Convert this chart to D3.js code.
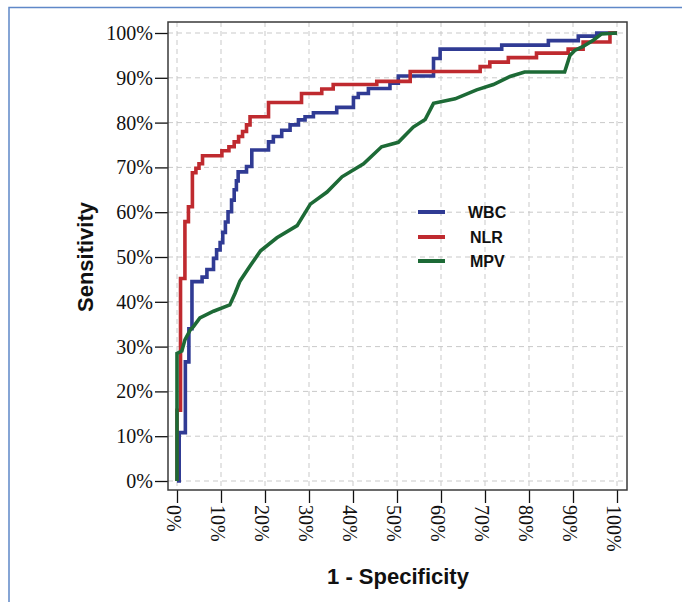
<!DOCTYPE html>
<html>
<head>
<meta charset="utf-8">
<script src="https://cdn.jsdelivr.net/npm/d3@7"></script>
<style>
  body { margin: 0; background: #fff; }
  svg { display: block; }
</style>
</head>
<body>
<div id="chart"></div>
<script>
// tick values (percent)
var ticks = [0, 10, 20, 30, 40, 50, 60, 70, 80, 90, 100];

var seriesNames = ["WBC", "NLR", "MPV"];
var seriesColors = ["#303b94", "#bf2a2f", "#1d6a36"];

// ROC vertices: [1 - specificity %, sensitivity %]
var wbc = [[0,0],[0.5,0],[0.5,10.8],[1.9,10.8],[1.9,26.6],[2.7,26.6],[2.7,34],[3.4,34],[3.4,44.5],
  [5.7,44.5],[5.7,45.5],[6.8,45.5],[6.8,47.2],[8.3,47.2],[8.3,49.7],[9,49.7],[9,51.6],[9.8,51.6],
  [9.8,53.2],[10.4,53.2],[10.4,55.5],[11,55.5],[11,57.8],[11.6,57.8],[11.6,60.1],[12.4,60.1],
  [12.4,62.7],[13,62.7],[13,65],[13.5,65],[13.5,67],[13.9,67],[13.9,69],[15.8,69],[15.8,70.2],
  [17,70.2],[17,73.9],[20.8,73.9],[20.8,75.7],[21.9,75.7],[21.9,76.9],[23.8,76.9],[23.8,78.3],
  [25.7,78.3],[25.7,79.5],[27.6,79.5],[27.6,80.6],[29.1,80.6],[29.1,81.3],[31,81.3],[31,82.2],
  [36.3,82.2],[36.3,83.4],[40.1,83.4],[40.1,85.6],[41.2,85.6],[41.2,86.5],[43.5,86.5],[43.5,87.6],
  [48.4,87.6],[48.4,88.8],[50.3,88.8],[50.3,90.4],[58.3,90.4],[58.3,94.3],[59.8,94.3],[59.8,96.4],
  [73.8,96.4],[73.8,97.3],[84.4,97.3],[84.4,98.3],[91.2,98.3],[91.2,99.3],[95.4,99.3],[95.4,100],[100,100]];

var nlr = [[0,0],[0,15.8],[0.8,15.8],[0.8,45.2],[1.8,45.2],[1.8,57.9],[2.6,57.9],[2.6,61.2],[3.5,61.2],
  [3.5,68.8],[4.3,68.8],[4.3,69.8],[5,69.8],[5,70.8],[5.8,70.8],[5.8,72.6],[10.2,72.6],[10.2,73.7],
  [11.8,73.7],[11.8,74.6],[13,74.6],[13,75.7],[14,75.7],[14,76.9],[14.9,76.9],[14.9,78],[15.8,78],
  [15.8,79.5],[16.6,79.5],[16.6,81.3],[20.8,81.3],[20.8,84.5],[28.3,84.5],[28.3,86.5],[32.9,86.5],
  [32.9,87.5],[35.5,87.5],[35.5,88.5],[45.4,88.5],[45.4,89.2],[53,89.2],[53,91.4],[68.9,91.4],
  [68.9,92.5],[71.1,92.5],[71.1,93.5],[75.3,93.5],[75.3,94.5],[81.7,94.5],[81.7,95.5],[88.9,95.5],
  [88.9,96.4],[92.3,96.4],[92.3,98],[98.4,98],[98.4,100],[100,100]];

var mpv = [[0,0],[0,28.5],[1.1,29],[1.8,31.5],[3,33.7],[3.7,34.4],[5.2,36.4],[8.3,37.9],[12,39.3],
  [13.2,41.9],[14.3,44.6],[16.6,48],[19,51.4],[22.7,54.3],[27.3,57],[30.3,61.8],[34.1,64.5],
  [37.5,67.9],[42.4,70.8],[46.5,74.6],[50.3,75.6],[53.7,79],[56.4,80.7],[58.3,84.3],[63.2,85.3],
  [68.1,87.3],[71.9,88.5],[75.7,90.3],[79,91.3],[88.1,91.3],[89.3,95],[90.4,96.1],[92.3,97],
  [94.6,98.4],[96.5,99.8],[100,100]];

var series = [wbc, nlr, mpv];

var width = 682, height = 602;
var frame = {left: 168, right: 627, top: 22, bottom: 490};

var svg = d3.select("#chart").append("svg")
    .attr("width", width)
    .attr("height", height);

// outer page frame
svg.append("path")
    .attr("d", "M9,602V7.5H682")
    .attr("fill", "none")
    .attr("stroke", "#5f88c8")
    .attr("stroke-width", 1.5);

var x = d3.scaleLinear().domain([0, 100]).range([177, 617]);
var y = d3.scaleLinear().domain([0, 100]).range([481, 33]);

// grid
var grid = svg.append("g").attr("stroke", "#c9c9c9").attr("stroke-dasharray", "5,4").attr("stroke-width", 1);
grid.selectAll(".gx").data(ticks).enter().append("line")
    .attr("x1", d => x(d)).attr("x2", d => x(d))
    .attr("y1", frame.top).attr("y2", frame.bottom);
grid.selectAll(".gy").data(ticks).enter().append("line")
    .attr("x1", frame.left).attr("x2", frame.right)
    .attr("y1", d => y(d)).attr("y2", d => y(d));

// axes
var yAxis = svg.append("g")
    .attr("transform", "translate(" + frame.left + ",0)")
    .call(d3.axisLeft(y).tickValues(ticks).tickFormat(d => d + "%").tickSize(13).tickPadding(2));
yAxis.select(".domain").remove();
yAxis.selectAll("line").attr("stroke", "#111").attr("stroke-width", 1.3);
yAxis.selectAll("text")
    .attr("fill", "#111")
    .style("font-family", "'Liberation Serif', 'Times New Roman', serif")
    .style("font-size", "20px");

var xAxis = svg.append("g")
    .attr("transform", "translate(0," + frame.bottom + ")")
    .call(d3.axisBottom(x).tickValues(ticks).tickFormat(d => d + "%").tickSize(13));
xAxis.select(".domain").remove();
xAxis.selectAll("line").attr("stroke", "#111").attr("stroke-width", 1.3);
xAxis.selectAll("text")
    .attr("transform", "rotate(90)")
    .attr("x", 15)
    .attr("y", 4)
    .attr("dy", "0.35em")
    .attr("fill", "#111")
    .style("text-anchor", "start")
    .style("font-family", "'Liberation Serif', 'Times New Roman', serif")
    .style("font-size", "20px");

// plot frame
svg.append("rect")
    .attr("x", frame.left).attr("y", frame.top)
    .attr("width", frame.right - frame.left).attr("height", frame.bottom - frame.top)
    .attr("fill", "none")
    .attr("stroke", "#3a3a3a")
    .attr("stroke-width", 1.5);

// curves
var line = d3.line().x(d => x(d[0])).y(d => y(d[1]));
svg.selectAll(".roc").data(series).enter().append("path")
    .attr("class", "roc")
    .attr("d", line)
    .attr("fill", "none")
    .attr("stroke", (d, i) => seriesColors[i])
    .attr("stroke-width", 3.6)
    .attr("stroke-linejoin", "miter");

// legend
var legendY = [212, 237, 261];
var legend = svg.selectAll(".leg").data(seriesNames).enter().append("g")
    .attr("transform", (d, i) => "translate(418," + legendY[i] + ")");
legend.append("line")
    .attr("x1", 0).attr("x2", 27)
    .attr("stroke", (d, i) => seriesColors[i])
    .attr("stroke-width", 4);
legend.append("text")
    .attr("x", (d, i) => i == 0 ? 50 : 52)
    .attr("dy", "0.36em")
    .text(d => d)
    .style("font-family", "'Liberation Sans', Arial, sans-serif")
    .style("font-weight", "bold")
    .style("font-size", "16px")
    .attr("fill", "#111");

// axis titles
svg.append("text")
    .attr("transform", "translate(93,257) rotate(-90)")
    .attr("text-anchor", "middle")
    .text("Sensitivity")
    .style("font-family", "'Liberation Sans', Arial, sans-serif")
    .style("font-weight", "bold")
    .style("font-size", "22px")
    .attr("fill", "#111");

svg.append("text")
    .attr("x", 398)
    .attr("y", 584)
    .attr("text-anchor", "middle")
    .text("1 - Specificity")
    .style("font-family", "'Liberation Sans', Arial, sans-serif")
    .style("font-weight", "bold")
    .style("font-size", "22px")
    .attr("fill", "#111");
</script>
</body>
</html>
